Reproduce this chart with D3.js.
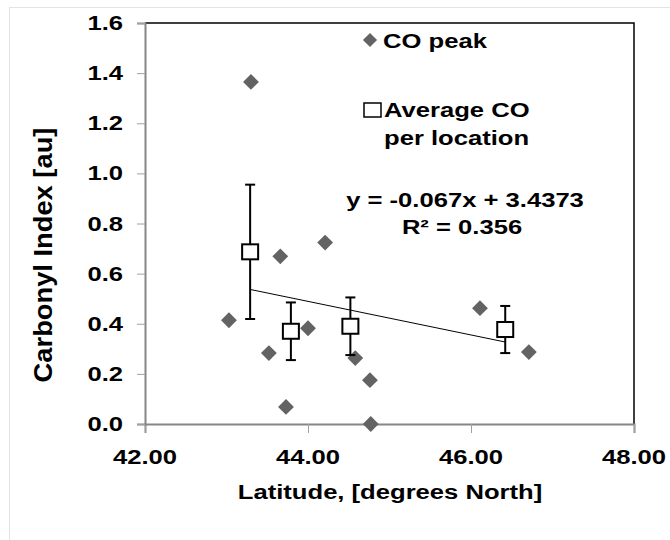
<!DOCTYPE html>
<html>
<head>
<meta charset="utf-8">
<script src="https://cdn.jsdelivr.net/npm/d3@7"></script>
<style>
  body { margin: 0; background: #fff; }
  text { font-family: "Liberation Sans", Arial, sans-serif; font-weight: bold; fill: #000; }
</style>
</head>
<body>
<svg id="chart"></svg>
<script>
// CO peaks per sample
var peakLat = [43.03, 43.30, 43.52, 43.66, 43.73, 44.00, 44.21, 44.58, 44.76, 44.77, 46.11, 46.71]
var peakCO  = [0.414, 1.365, 0.283, 0.669, 0.068, 0.382, 0.724, 0.263, 0.175, 0.000, 0.462, 0.287]

// average CO per location, with error bar half-length
var avgLat = [43.29, 43.79, 44.52, 46.42]
var avgCO  = [0.687, 0.370, 0.390, 0.377]
var avgErr = [0.268, 0.115, 0.115, 0.094]

// linear fit shown on the chart
var fitSlope = -0.067
var fitIntercept = 3.4373

var xTicks = [42, 44, 46, 48]
var yTicks = [0, 0.2, 0.4, 0.6, 0.8, 1.0, 1.2, 1.4, 1.6]

var dimensions = {
  width: 670,
  height: 540,
  margin: { top: 23, bottom: 116, right: 36, left: 145 }
}
var stretch = 1.22 // text in the picture is wider than normal

var svg = d3.select("#chart")
  .attr("width", dimensions.width)
  .attr("height", dimensions.height)

// faint chart area border
svg.append("rect")
  .attr("x", 9.5).attr("y", 7.5)
  .attr("width", 700).attr("height", 600)
  .attr("fill", "none").attr("stroke", "#e4e4e4")

var xScale = d3.scaleLinear()
  .domain([42, 48])
  .range([dimensions.margin.left, dimensions.width - dimensions.margin.right])

var yScale = d3.scaleLinear()
  .domain([0, 1.6])
  .range([dimensions.height - dimensions.margin.bottom, dimensions.margin.top])

// plot area frame (top + right black)
svg.append("path")
  .attr("d", `M${xScale(42)},${yScale(1.6)}H${xScale(48)}V${yScale(0)}`)
  .attr("fill", "none").attr("stroke", "#000").attr("stroke-width", 1.5)

// helper for horizontally stretched text
function label(x, y, str, anchor, size) {
  var g = svg.append("g").attr("transform", `translate(${x},${y}) scale(${stretch},1)`)
  g.append("text")
    .attr("text-anchor", anchor || "start")
    .style("font-size", (size || 21) + "px")
    .text(str)
  return g
}

// axes
var xAxisGen = d3.axisBottom(xScale).tickValues(xTicks).tickSize(9).tickFormat("")
var xAxis = svg.append("g")
  .attr("transform", `translate(0,${yScale(0)})`)
  .call(xAxisGen)
xAxis.select(".domain").attr("stroke", "#868686").attr("stroke-width", 2)
xAxis.selectAll(".tick line").attr("stroke", "#a0a0a0")

var yAxisGen = d3.axisLeft(yScale).tickValues(yTicks).tickSize(8).tickFormat("")
var yAxis = svg.append("g")
  .attr("transform", `translate(${xScale(42)},0)`)
  .call(yAxisGen)
yAxis.select(".domain").attr("stroke", "#868686").attr("stroke-width", 2)
yAxis.selectAll(".tick line").attr("stroke", "#a0a0a0")

xTicks.forEach(function(t) {
  label(xScale(t), yScale(0) + 40, d3.format(".2f")(t), "middle")
})
yTicks.forEach(function(t) {
  label(xScale(42) - 22, yScale(t) + 7, d3.format(".1f")(t), "end")
})

// axis titles
label(390, 499, "Latitude, [degrees North]", "middle")
svg.append("g")
  .attr("transform", "translate(52,255) rotate(-90) scale(1.3,1.22)")
  .append("text")
  .attr("text-anchor", "middle")
  .style("font-size", "21px")
  .text("Carbonyl Index [au]")

// CO peak diamonds
var diamond = d3.symbol().type(d3.symbolSquare).size(125)
svg.append("g")
  .selectAll("path")
  .data(peakLat)
  .enter()
  .append("path")
  .attr("d", diamond)
  .attr("transform", (d, i) => `translate(${xScale(d)},${yScale(peakCO[i])}) rotate(45)`)
  .attr("fill", "#636363")

// trend line over the averages
var x0 = d3.min(avgLat), x1 = d3.max(avgLat)
svg.append("line")
  .attr("x1", xScale(x0)).attr("y1", yScale(fitSlope * x0 + fitIntercept))
  .attr("x2", xScale(x1)).attr("y2", yScale(fitSlope * x1 + fitIntercept))
  .attr("stroke", "#000").attr("stroke-width", 1)

// error bars
var bars = svg.append("g")
  .selectAll("g")
  .data(avgLat)
  .enter()
  .append("g")
  .attr("stroke", "#000").attr("stroke-width", 2)
bars.append("line")
  .attr("x1", d => xScale(d)).attr("x2", d => xScale(d))
  .attr("y1", (d, i) => yScale(avgCO[i] + avgErr[i]))
  .attr("y2", (d, i) => yScale(avgCO[i] - avgErr[i]))
bars.append("line")
  .attr("x1", d => xScale(d) - 5).attr("x2", d => xScale(d) + 5)
  .attr("y1", (d, i) => yScale(avgCO[i] + avgErr[i]))
  .attr("y2", (d, i) => yScale(avgCO[i] + avgErr[i]))
bars.append("line")
  .attr("x1", d => xScale(d) - 5).attr("x2", d => xScale(d) + 5)
  .attr("y1", (d, i) => yScale(avgCO[i] - avgErr[i]))
  .attr("y2", (d, i) => yScale(avgCO[i] - avgErr[i]))

// average squares
svg.append("g")
  .selectAll("rect")
  .data(avgLat)
  .enter()
  .append("rect")
  .attr("x", d => xScale(d) - 8)
  .attr("y", (d, i) => yScale(avgCO[i]) - 7.5)
  .attr("width", 16).attr("height", 15)
  .attr("fill", "#fff").attr("stroke", "#000").attr("stroke-width", 2)

// legend
svg.append("path")
  .attr("d", d3.symbol().type(d3.symbolSquare).size(100))
  .attr("transform", "translate(370,40) rotate(45)")
  .attr("fill", "#636363")
label(383, 48, "CO peak")

svg.append("rect")
  .attr("x", 364).attr("y", 103).attr("width", 17).attr("height", 14)
  .attr("fill", "#fff").attr("stroke", "#000").attr("stroke-width", 1.5)
label(384, 117, "Average CO")
label(384, 145, "per location")

// fit equation
label(465, 207, "y = -0.067x + 3.4373", "middle")
label(462, 234, "R² = 0.356", "middle")
</script>
</body>
</html>
